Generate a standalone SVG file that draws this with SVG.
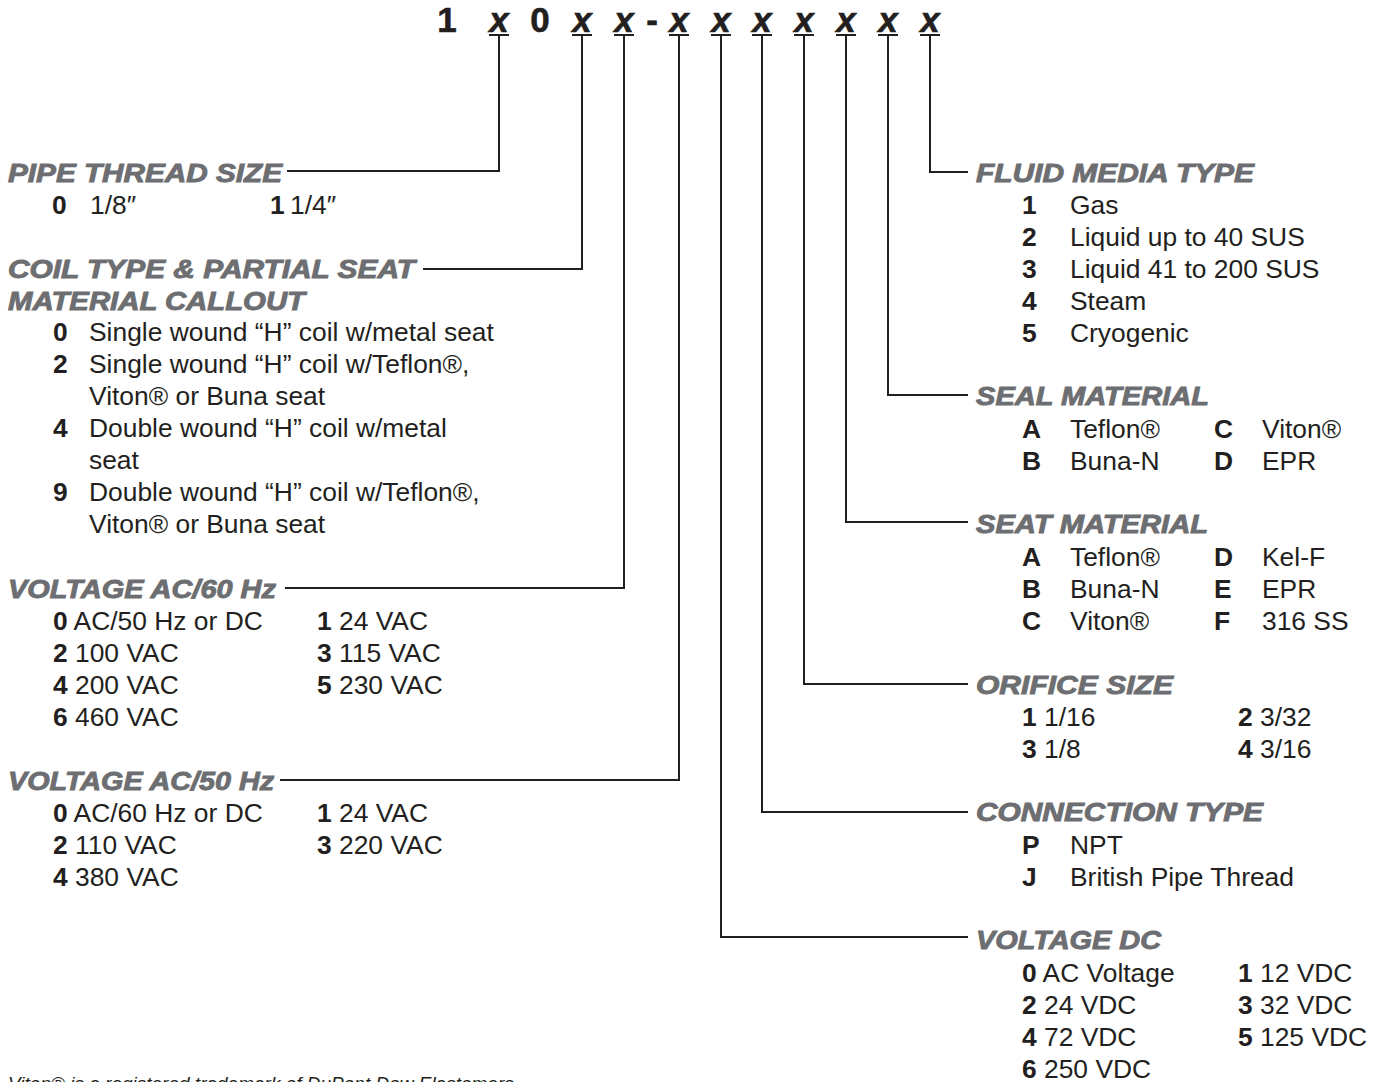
<svg xmlns="http://www.w3.org/2000/svg" width="1378" height="1082" viewBox="0 0 1378 1082">
<style>
.h{font-family:"Liberation Sans",Arial,sans-serif;font-weight:bold;font-style:italic;font-size:25px;fill:#6d6e71;stroke:#6d6e71;stroke-width:0.9}
.t{font-family:"Liberation Sans",Arial,sans-serif;font-size:26.4px;fill:#231f20}
.b{font-weight:bold}
.hd{font-family:"Liberation Sans",Arial,sans-serif;font-weight:bold;font-size:35px;fill:#231f20;stroke:#231f20;stroke-width:0.6}
.hx{font-style:italic}
.ln{stroke:#231f20;stroke-width:2;fill:none}
.fn{font-family:"Liberation Sans",Arial,sans-serif;font-style:italic;font-size:19px;fill:#231f20}
</style>
<rect width="1378" height="1082" fill="#ffffff"/>
<g id="header">
<text class="hd" x="447" y="32" text-anchor="middle">1</text>
<text class="hd hx" x="499" y="32" text-anchor="middle">x</text>
<text class="hd" x="540" y="32" text-anchor="middle">0</text>
<text class="hd hx" x="582" y="32" text-anchor="middle">x</text>
<text class="hd hx" x="624" y="32" text-anchor="middle">x</text>
<text class="hd" x="652" y="32" text-anchor="middle">-</text>
<text class="hd hx" x="679" y="32" text-anchor="middle">x</text>
<text class="hd hx" x="721" y="32" text-anchor="middle">x</text>
<text class="hd hx" x="762" y="32" text-anchor="middle">x</text>
<text class="hd hx" x="804" y="32" text-anchor="middle">x</text>
<text class="hd hx" x="846" y="32" text-anchor="middle">x</text>
<text class="hd hx" x="888" y="32" text-anchor="middle">x</text>
<text class="hd hx" x="930" y="32" text-anchor="middle">x</text>
<path class="ln" d="M489,35H509M572,35H592M614,35H634M669,35H689M711,35H731M752,35H772M794,35H814M836,35H856M878,35H898M920,35H940"/>
</g>
<g id="connectors">
<path class="ln" d="M499,35V171H287"/>
<path class="ln" d="M582,35V269H423"/>
<path class="ln" d="M624,35V588H285"/>
<path class="ln" d="M679,35V780H280"/>
<path class="ln" d="M721,35V937H968"/>
<path class="ln" d="M762,35V812H968"/>
<path class="ln" d="M804,35V684H968"/>
<path class="ln" d="M846,35V522H968"/>
<path class="ln" d="M888,35V395H968"/>
<path class="ln" d="M930,35V172H968"/>
</g>
<g id="pipe-thread-size">
<text class="h" x="8" y="182" textLength="274" lengthAdjust="spacingAndGlyphs">PIPE THREAD SIZE</text>
<text class="t b" x="52" y="214">0</text><text class="t" x="90" y="214">1/8″</text>
<text class="t b" x="270" y="214">1</text><text class="t" x="290" y="214">1/4″</text>
</g>
<g id="coil-type">
<text class="h" x="8" y="278" textLength="407" lengthAdjust="spacingAndGlyphs">COIL TYPE &amp; PARTIAL SEAT</text>
<text class="h" x="8" y="310" textLength="297" lengthAdjust="spacingAndGlyphs">MATERIAL CALLOUT</text>
<text class="t b" x="53" y="341">0</text><text class="t" x="89" y="341">Single wound “H” coil w/metal seat</text>
<text class="t b" x="53" y="373">2</text><text class="t" x="89" y="373">Single wound “H” coil w/Teflon®,</text>
<text class="t" x="89" y="405">Viton® or Buna seat</text>
<text class="t b" x="53" y="437">4</text><text class="t" x="89" y="437">Double wound “H” coil w/metal</text>
<text class="t" x="89" y="469">seat</text>
<text class="t b" x="53" y="501">9</text><text class="t" x="89" y="501">Double wound “H” coil w/Teflon®,</text>
<text class="t" x="89" y="533">Viton® or Buna seat</text>
</g>
<g id="voltage-ac60">
<text class="h" x="8" y="598" textLength="268" lengthAdjust="spacingAndGlyphs">VOLTAGE AC/60 Hz</text>
<text class="t" x="53" y="630"><tspan class="b">0</tspan> AC/50 Hz or DC</text>
<text class="t" x="317" y="630"><tspan class="b">1</tspan> 24 VAC</text>
<text class="t" x="53" y="662"><tspan class="b">2</tspan> 100 VAC</text>
<text class="t" x="317" y="662"><tspan class="b">3</tspan> 115 VAC</text>
<text class="t" x="53" y="694"><tspan class="b">4</tspan> 200 VAC</text>
<text class="t" x="317" y="694"><tspan class="b">5</tspan> 230 VAC</text>
<text class="t" x="53" y="726"><tspan class="b">6</tspan> 460 VAC</text>
</g>
<g id="voltage-ac50">
<text class="h" x="8" y="790" textLength="266" lengthAdjust="spacingAndGlyphs">VOLTAGE AC/50 Hz</text>
<text class="t" x="53" y="822"><tspan class="b">0</tspan> AC/60 Hz or DC</text>
<text class="t" x="317" y="822"><tspan class="b">1</tspan> 24 VAC</text>
<text class="t" x="53" y="854"><tspan class="b">2</tspan> 110 VAC</text>
<text class="t" x="317" y="854"><tspan class="b">3</tspan> 220 VAC</text>
<text class="t" x="53" y="886"><tspan class="b">4</tspan> 380 VAC</text>
</g>
<g id="fluid-media-type">
<text class="h" x="976" y="182" textLength="278" lengthAdjust="spacingAndGlyphs">FLUID MEDIA TYPE</text>
<text class="t b" x="1022" y="214">1</text><text class="t" x="1070" y="214">Gas</text>
<text class="t b" x="1022" y="246">2</text><text class="t" x="1070" y="246">Liquid up to 40 SUS</text>
<text class="t b" x="1022" y="278">3</text><text class="t" x="1070" y="278">Liquid 41 to 200 SUS</text>
<text class="t b" x="1022" y="310">4</text><text class="t" x="1070" y="310">Steam</text>
<text class="t b" x="1022" y="342">5</text><text class="t" x="1070" y="342">Cryogenic</text>
</g>
<g id="seal-material">
<text class="h" x="976" y="405" textLength="233" lengthAdjust="spacingAndGlyphs">SEAL MATERIAL</text>
<text class="t b" x="1022" y="438">A</text><text class="t" x="1070" y="438">Teflon®</text>
<text class="t b" x="1214" y="438">C</text><text class="t" x="1262" y="438">Viton®</text>
<text class="t b" x="1022" y="470">B</text><text class="t" x="1070" y="470">Buna-N</text>
<text class="t b" x="1214" y="470">D</text><text class="t" x="1262" y="470">EPR</text>
</g>
<g id="seat-material">
<text class="h" x="976" y="533" textLength="232" lengthAdjust="spacingAndGlyphs">SEAT MATERIAL</text>
<text class="t b" x="1022" y="566">A</text><text class="t" x="1070" y="566">Teflon®</text>
<text class="t b" x="1214" y="566">D</text><text class="t" x="1262" y="566">Kel-F</text>
<text class="t b" x="1022" y="598">B</text><text class="t" x="1070" y="598">Buna-N</text>
<text class="t b" x="1214" y="598">E</text><text class="t" x="1262" y="598">EPR</text>
<text class="t b" x="1022" y="630">C</text><text class="t" x="1070" y="630">Viton®</text>
<text class="t b" x="1214" y="630">F</text><text class="t" x="1262" y="630">316 SS</text>
</g>
<g id="orifice-size">
<text class="h" x="976" y="694" textLength="197" lengthAdjust="spacingAndGlyphs">ORIFICE SIZE</text>
<text class="t" x="1022" y="726"><tspan class="b">1</tspan> 1/16</text>
<text class="t" x="1238" y="726"><tspan class="b">2</tspan> 3/32</text>
<text class="t" x="1022" y="758"><tspan class="b">3</tspan> 1/8</text>
<text class="t" x="1238" y="758"><tspan class="b">4</tspan> 3/16</text>
</g>
<g id="connection-type">
<text class="h" x="976" y="821" textLength="287" lengthAdjust="spacingAndGlyphs">CONNECTION TYPE</text>
<text class="t b" x="1022" y="854">P</text><text class="t" x="1070" y="854">NPT</text>
<text class="t b" x="1022" y="886">J</text><text class="t" x="1070" y="886">British Pipe Thread</text>
</g>
<g id="voltage-dc">
<text class="h" x="976" y="949" textLength="185" lengthAdjust="spacingAndGlyphs">VOLTAGE DC</text>
<text class="t" x="1022" y="982"><tspan class="b">0</tspan> AC Voltage</text>
<text class="t" x="1238" y="982"><tspan class="b">1</tspan> 12 VDC</text>
<text class="t" x="1022" y="1014"><tspan class="b">2</tspan> 24 VDC</text>
<text class="t" x="1238" y="1014"><tspan class="b">3</tspan> 32 VDC</text>
<text class="t" x="1022" y="1046"><tspan class="b">4</tspan> 72 VDC</text>
<text class="t" x="1238" y="1046"><tspan class="b">5</tspan> 125 VDC</text>
<text class="t" x="1022" y="1078"><tspan class="b">6</tspan> 250 VDC</text>
</g>
<g id="footnote">
<text class="fn" x="8" y="1090">Viton® is a registered trademark of DuPont Dow Elastomers.</text>
</g>
</svg>
